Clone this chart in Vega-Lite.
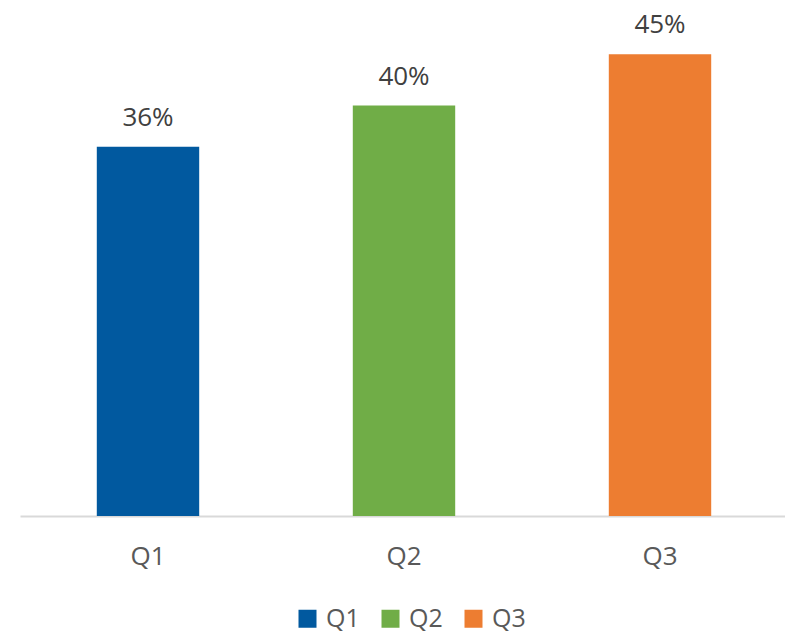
{
  "$schema": "https://vega.github.io/schema/vega-lite/v6.json",
  "autosize": {"type": "none"},
  "width": 768,
  "height": 513,
  "padding": {"left": 20, "top": 3, "right": 0, "bottom": 122},
  "background": "white",
  "config": {"view": {"stroke": null}, "font": "Open Sans"},
  "data": {"values": [
    {"q": "Q1", "v": 0.36},
    {"q": "Q2", "v": 0.40},
    {"q": "Q3", "v": 0.45}
  ]},
  "encoding": {
    "x": {"field": "q", "type": "nominal", "scale": {"paddingInner": 0.6, "paddingOuter": 0.3},
      "axis": {"title": null, "labelAngle": 0, "ticks": false, "labelFontSize": 26, "labelColor": "#595959", "labelPadding": 27, "domainColor": "#d9d9d9", "domainWidth": 2}},
    "y": {"field": "v", "type": "quantitative", "scale": {"domain": [0, 0.5]}, "axis": null}
  },
  "layer": [
    {"mark": {"type": "bar"},
     "encoding": {"color": {"field": "q", "type": "nominal",
        "scale": {"range": ["#01599F", "#70AD47", "#ED7D31"]},
        "legend": {"title": null, "orient": "none", "direction": "horizontal", "legendX": 275, "legendY": 603,
          "symbolType": "square", "symbolSize": 324, "symbolStrokeWidth": 0, "labelFontSize": 25, "labelColor": "#595959", "columnPadding": 18, "labelOffset": 6}}}},
    {"mark": {"type": "text", "baseline": "bottom", "dy": -16, "fontSize": 26, "color": "#404040"},
     "encoding": {"text": {"field": "v", "type": "quantitative", "format": ".0%"}}}
  ]
}
